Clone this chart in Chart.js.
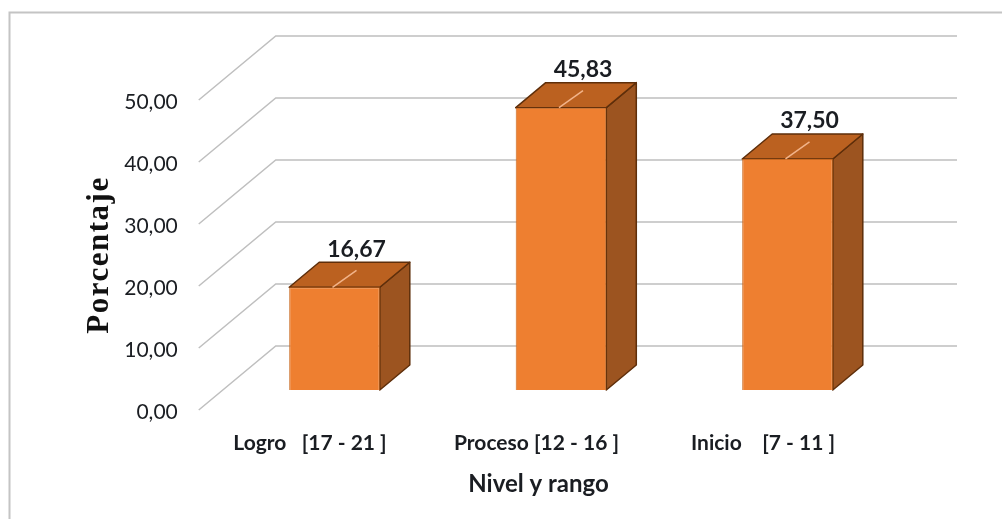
<!DOCTYPE html>
<html>
<head>
<meta charset="utf-8">
<title>Nivel y rango</title>
<script src="https://cdn.jsdelivr.net/npm/chart.js@4"></script>
<style>
  html, body { margin: 0; padding: 0; background: #fff; }
  #wrap { width: 1002px; height: 519px; position: relative; }
</style>
</head>
<body>
<div id="wrap"><canvas id="chart"></canvas></div>
<script>
const categories = ['Logro   [17 - 21 ]', 'Proceso [12 - 16 ]', 'Inicio    [7 - 11 ]'];
const values = [16.67, 45.83, 37.50];

const fontText = 'Lato, Carlito, sans-serif';
const ink = '#1a1d22';
const comma = v => v.toFixed(2).replace('.', ',');

// Fake 3D: wall is the y axis pushed back, bars sit part way into the depth
const WALL_DX = 77, WALL_DY = -64, WALL_RIGHT = 957;
const BAR_SHIFT = 22.5;
const DEPTH_DX = 30, DEPTH_DY = -25;

const frame3d = {
  id: 'frame3d',
  beforeDraw(chart) {
    const { ctx, width, height } = chart;
    // only the top and left edges of the frame are in the picture
    ctx.save();
    ctx.strokeStyle = '#c4c4c4';
    ctx.lineWidth = 2;
    ctx.beginPath();
    ctx.moveTo(9.5, height);
    ctx.lineTo(9.5, 12.5);
    ctx.lineTo(width, 12.5);
    ctx.stroke();
    ctx.restore();
  },
  beforeDatasetsDraw(chart) {
    const { ctx, chartArea, scales: { y } } = chart;
    ctx.save();
    ctx.strokeStyle = '#bfbfbf';
    ctx.lineWidth = 1.5;
    y.ticks.forEach(t => {
      const py = y.getPixelForValue(t.value);
      ctx.beginPath();
      ctx.moveTo(chartArea.left, py);
      ctx.lineTo(chartArea.left + WALL_DX, py + WALL_DY);
      ctx.lineTo(WALL_RIGHT, py + WALL_DY);
      ctx.stroke();
    });
    ctx.restore();

    // side and top faces go under the front face the library draws
    ctx.save();
    ctx.translate(BAR_SHIFT, 0);
    chart.getDatasetMeta(0).data.forEach(bar => {
      const l = bar.x - bar.width / 2, r = bar.x + bar.width / 2;
      const top = bar.y, bottom = bar.base;
      ctx.lineJoin = 'round';
      ctx.lineWidth = 1.5;
      ctx.strokeStyle = '#5e2e0a';

      ctx.fillStyle = '#9c5420';
      ctx.beginPath();
      ctx.moveTo(r, top);
      ctx.lineTo(r + DEPTH_DX, top + DEPTH_DY);
      ctx.lineTo(r + DEPTH_DX, bottom + DEPTH_DY);
      ctx.lineTo(r, bottom);
      ctx.closePath();
      ctx.fill();
      ctx.stroke();

      ctx.fillStyle = '#bb6120';
      ctx.beginPath();
      ctx.moveTo(l, top);
      ctx.lineTo(l + DEPTH_DX, top + DEPTH_DY);
      ctx.lineTo(r + DEPTH_DX, top + DEPTH_DY);
      ctx.lineTo(r, top);
      ctx.closePath();
      ctx.fill();
      ctx.stroke();
    });
    ctx.restore();

    ctx.save();
    ctx.translate(BAR_SHIFT, 0);
  },
  afterDatasetsDraw(chart) {
    const { ctx } = chart;
    ctx.restore();

    chart.getDatasetMeta(0).data.forEach((bar, i) => {
      const cx = bar.x + BAR_SHIFT, top = bar.y;
      // leader line from the front edge to the label
      ctx.save();
      ctx.strokeStyle = '#f2b48a';
      ctx.lineWidth = 1.5;
      ctx.beginPath();
      ctx.moveTo(cx - 2, top);
      ctx.lineTo(cx + 22, top - 17);
      ctx.stroke();

      ctx.fillStyle = ink;
      ctx.font = 'bold 23px ' + fontText;
      ctx.textAlign = 'center';
      ctx.textBaseline = 'middle';
      ctx.fillText(comma(values[i]), cx + 22, top - 38);
      ctx.restore();
    });

    // y title, spaced out like the original
    ctx.save();
    ctx.translate(100, 255);
    ctx.rotate(-Math.PI / 2);
    ctx.font = 'bold 31px "Liberation Serif", serif';
    ctx.letterSpacing = '1.5px';
    ctx.fillStyle = '#111';
    ctx.textAlign = 'center';
    ctx.textBaseline = 'middle';
    ctx.fillText('Porcentaje', 0, 0);
    ctx.restore();
  }
};

new Chart(document.getElementById('chart'), {
  type: 'bar',
  data: {
    labels: categories,
    datasets: [{
      data: values,
      yAxisID: 'yBar',
      backgroundColor: '#ee7f30',
      borderColor: '#c9681f',
      borderWidth: 1,
      barPercentage: 1,
      categoryPercentage: 0.4,
      clip: false
    }]
  },
  plugins: [frame3d],
  options: {
    responsive: true, maintainAspectRatio: false, animation: false,
    layout: { padding: { top: 100, right: 123.75, bottom: 0, left: 0 } },
    plugins: { legend: { display: false }, tooltip: { enabled: false } },
    scales: {
      x: {
        grid: { display: false },
        border: { display: false },
        ticks: { color: ink, font: { family: fontText, size: 21, weight: 'bold' }, padding: 13, maxRotation: 0, labelOffset: -2 },
        title: { display: true, text: 'Nivel y rango', color: ink, font: { family: fontText, size: 24, weight: 'bold' }, padding: { top: 0, bottom: 20 } },
        afterFit: s => { s.height = 109; }
      },
      y: {
        min: 0, max: 50,
        grid: { display: false },
        border: { display: false },
        ticks: { stepSize: 10, color: ink, font: { family: fontText, size: 21 }, padding: 13, labelOffset: 2, callback: v => comma(v) },
        afterFit: s => { s.width = 198.75; }
      },
      // bars stand on a floor closer to the wall than the front axis
      yBar: { display: false, min: -3.25, max: 47.07 }
    }
  }
});
</script>
</body>
</html>
